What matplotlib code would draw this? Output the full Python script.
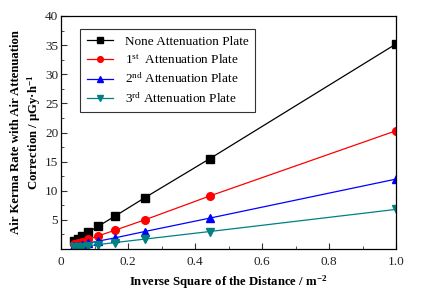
import matplotlib
matplotlib.use("Agg")
import matplotlib.pyplot as plt
from matplotlib.ticker import MultipleLocator

plt.rcParams['font.family'] = ['Liberation Serif', 'DejaVu Serif']
plt.rcParams['mathtext.fontset'] = 'custom'
plt.rcParams['mathtext.rm'] = 'Liberation Serif'
plt.rcParams['mathtext.it'] = 'Liberation Serif:italic'
plt.rcParams['mathtext.bf'] = 'Liberation Serif:bold'

x = [1.0, 0.444, 0.25, 0.16, 0.111, 0.0816, 0.0625, 0.0494, 0.04]
none_plate = [35.2, 15.5, 8.8, 5.6, 3.9, 2.9, 2.2, 1.75, 1.4]
plate1 = [20.3, 9.1, 5.0, 3.2, 2.25, 1.65, 1.25, 1.0, 0.8]
plate2 = [12.0, 5.3, 3.0, 1.9, 1.35, 1.0, 0.75, 0.6, 0.5]
plate3 = [6.8, 3.0, 1.7, 1.1, 0.75, 0.55, 0.42, 0.35, 0.3]

labels = ['None Attenuation Plate', r'1$^{\mathrm{st}}$  Attenuation Plate',
          r'2$^{\mathrm{nd}}$ Attenuation Plate', r'3$^{\mathrm{rd}}$ Attenuation Plate']
colors = ['#000000', '#ff0000', '#0000ff', '#008080']
markers = ['s', 'o', '^', 'v']
series = [none_plate, plate1, plate2, plate3]

fig = plt.figure(figsize=(4.24, 2.95), dpi=100)
ax = fig.add_axes([61/424, 1-249/295, (396-61)/424, (249-16)/295])

for ys, c, m, lab in zip(series, colors, markers, labels):
    ax.plot(x, ys, color=c, marker=m, markersize=5.5, linewidth=0.9, label=lab)

ax.set_xlim(0, 1.0)
ax.set_ylim(0, 40)
ax.xaxis.set_minor_locator(MultipleLocator(0.1))
ax.yaxis.set_minor_locator(MultipleLocator(2.5))
ax.set_xticks([0, 0.2, 0.4, 0.6, 0.8, 1.0])
ax.set_xticklabels(['0', '0.2', '0.4', '0.6', '0.8', '1.0'])
ax.set_yticks([5, 10, 15, 20, 25, 30, 35, 40])
ax.tick_params(which='both', direction='in', labelsize=9.5, color='#333333', labelcolor='#222222')
ax.tick_params(which='major', length=4)
ax.tick_params(which='minor', length=2.5)
ax.tick_params(axis='x', pad=5)
ax.tick_params(axis='y', pad=2)
for s in ax.spines.values():
    s.set_linewidth(0.9)

ax.set_xlabel(r'Inverse Square of the Distance / m$^{\mathbf{-2}}$', fontsize=9.2, fontweight='bold', labelpad=4)
ax.set_ylabel('Air Kerma Rate with Air Attenuation\n' + r'Correction / μGy·h$^{\mathbf{-1}}$',
              fontsize=9.2, fontweight='bold', labelpad=1, linespacing=1.35)

leg = ax.legend(loc='upper left', bbox_to_anchor=(0.057, 0.944), fontsize=9.5,
                frameon=True, fancybox=False, edgecolor='#333333', framealpha=1,
                handlelength=2.0, handletextpad=0.9, labelspacing=0.38, borderpad=0.5,
                markerscale=0.75, borderaxespad=0)
leg.get_frame().set_linewidth(0.8)

fig.savefig('out.png', dpi=100)
